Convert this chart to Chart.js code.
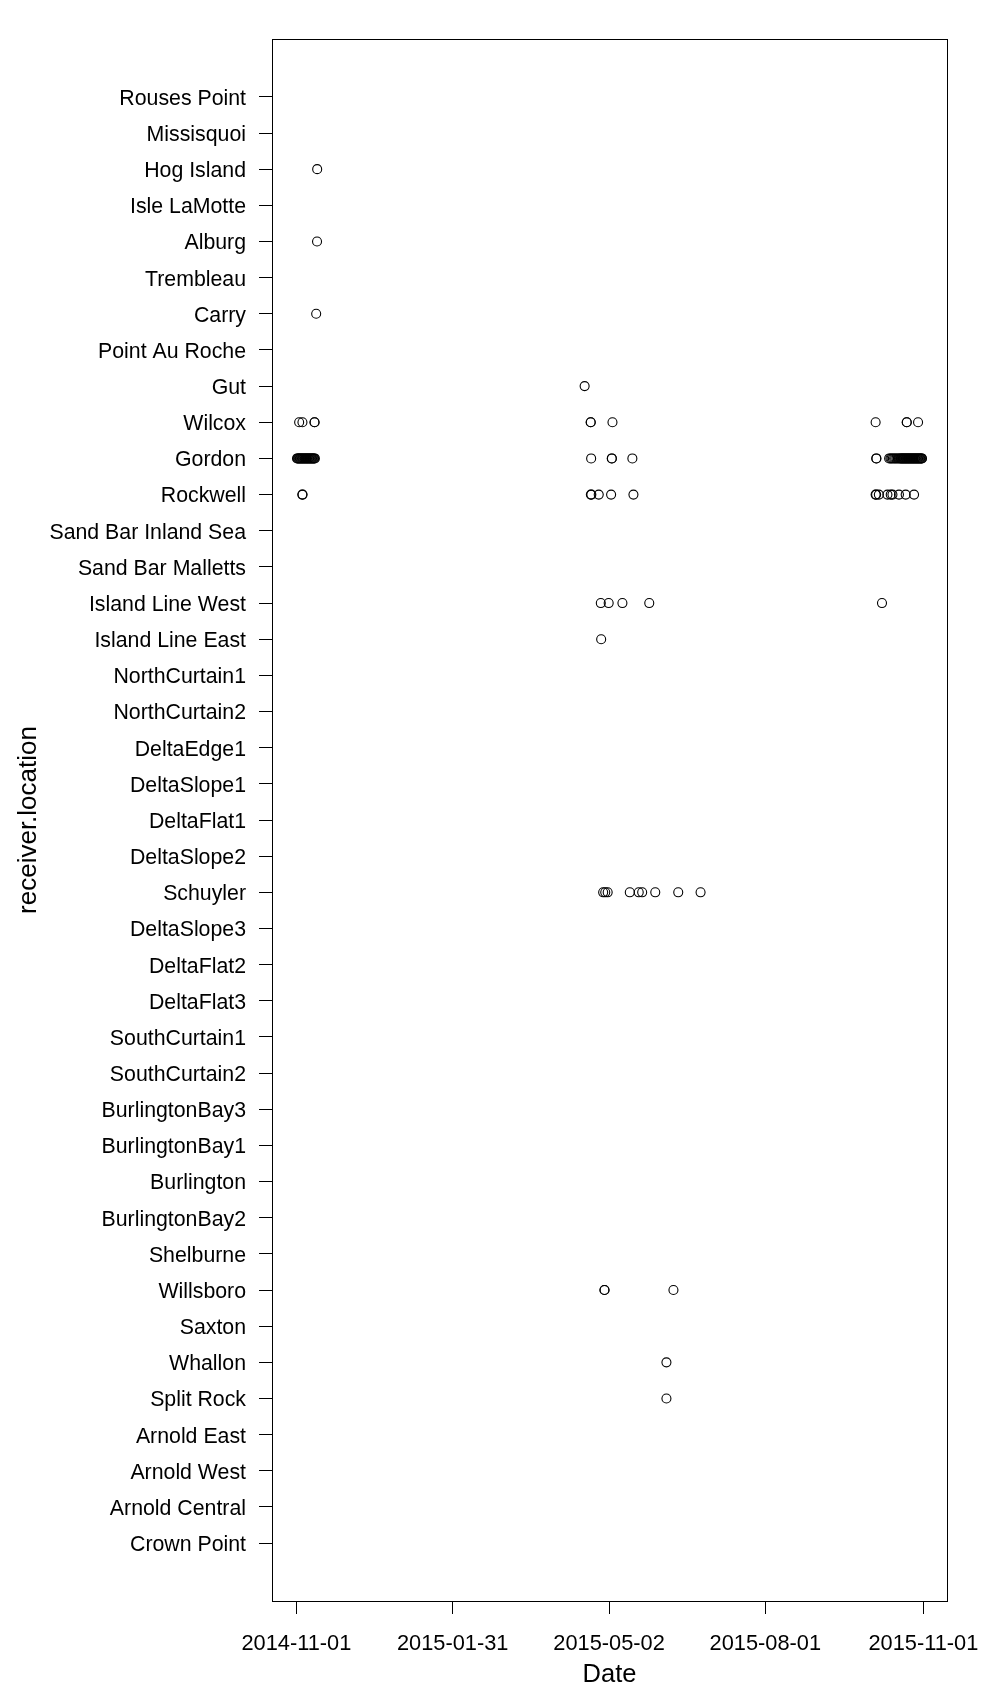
<!DOCTYPE html>
<html>
<head>
<meta charset="utf-8">
<script src="https://cdn.jsdelivr.net/npm/chart.js@4.4.1/dist/chart.umd.min.js"></script>
<style>
  html, body { margin: 0; padding: 0; background: #ffffff; }
  #wrap { position: relative; width: 1000px; height: 1708px; }
</style>
</head>
<body>
<div id="wrap"><canvas id="chart"></canvas></div>
<script>
// ---------------- DATA ----------------
const locations = [
  'Rouses Point', 'Missisquoi', 'Hog Island', 'Isle LaMotte', 'Alburg', 'Trembleau',
  'Carry', 'Point Au Roche', 'Gut', 'Wilcox', 'Gordon', 'Rockwell',
  'Sand Bar Inland Sea', 'Sand Bar Malletts', 'Island Line West', 'Island Line East',
  'NorthCurtain1', 'NorthCurtain2', 'DeltaEdge1', 'DeltaSlope1', 'DeltaFlat1',
  'DeltaSlope2', 'Schuyler', 'DeltaSlope3', 'DeltaFlat2', 'DeltaFlat3',
  'SouthCurtain1', 'SouthCurtain2', 'BurlingtonBay3', 'BurlingtonBay1', 'Burlington',
  'BurlingtonBay2', 'Shelburne', 'Willsboro', 'Saxton', 'Whallon', 'Split Rock',
  'Arnold East', 'Arnold West', 'Arnold Central', 'Crown Point'
];

const tickDates = ['2014-11-01', '2015-01-31', '2015-05-02', '2015-08-01', '2015-11-01'];

const hogIsland = ['2014-11-13 02:00'];
const alburg = ['2014-11-13 00:00'];
const carry = ['2014-11-12 12:00'];
const gut = ['2015-04-17 19:00'];
const wilcox = [
  '2014-11-02 14:00', '2014-11-04 12:00', '2014-11-11 12:00', '2014-11-11 14:00',
  '2015-04-21 07:00', '2015-04-21 09:00', '2015-05-04 00:00',
  '2015-10-04 05:00', '2015-10-22 07:00', '2015-10-22 09:00', '2015-10-28 22:00'
];
const gordon = [
  '2014-11-01 08:00', '2014-11-01 18:00', '2014-11-02 04:00', '2014-11-02 14:00',
  '2014-11-03 00:00', '2014-11-03 10:00', '2014-11-03 20:00', '2014-11-04 06:00',
  '2014-11-04 16:00', '2014-11-05 02:00', '2014-11-05 12:00', '2014-11-05 22:00',
  '2014-11-06 08:00', '2014-11-06 18:00', '2014-11-07 04:00', '2014-11-07 14:00',
  '2014-11-08 00:00', '2014-11-08 10:00', '2014-11-08 20:00', '2014-11-09 06:00',
  '2014-11-09 16:00', '2014-11-10 02:00', '2014-11-10 12:00', '2014-11-10 22:00',
  '2014-11-11 08:00', '2014-11-11 18:00',
  '2015-04-21 14:00', '2015-05-03 14:00', '2015-05-03 16:00', '2015-05-15 14:00',
  '2015-10-04 14:00', '2015-10-04 16:00',
  '2015-10-12 02:00', '2015-10-12 20:00', '2015-10-13 12:00', '2015-10-14 06:00',
  '2015-10-15 00:00', '2015-10-15 16:00', '2015-10-16 10:00', '2015-10-17 04:00',
  '2015-10-17 20:00', '2015-10-18 12:00', '2015-10-18 22:00', '2015-10-19 08:00',
  '2015-10-19 18:00', '2015-10-20 04:00', '2015-10-20 14:00', '2015-10-21 00:00',
  '2015-10-21 10:00', '2015-10-21 20:00', '2015-10-22 06:00', '2015-10-22 16:00',
  '2015-10-23 02:00', '2015-10-23 12:00', '2015-10-23 22:00', '2015-10-24 08:00',
  '2015-10-24 18:00', '2015-10-25 04:00', '2015-10-25 14:00', '2015-10-26 00:00',
  '2015-10-26 10:00', '2015-10-26 20:00', '2015-10-27 06:00', '2015-10-27 16:00',
  '2015-10-28 02:00', '2015-10-28 12:00', '2015-10-28 22:00', '2015-10-29 08:00',
  '2015-10-29 18:00', '2015-10-30 04:00', '2015-10-30 14:00', '2015-10-31 00:00',
  '2015-10-31 05:00'
];
const rockwell = [
  '2014-11-04 10:00', '2014-11-04 14:00',
  '2015-04-21 10:00', '2015-04-21 17:00', '2015-04-26 00:00', '2015-05-03 05:00',
  '2015-05-16 05:00',
  '2015-10-04 05:00', '2015-10-04 12:00', '2015-10-06 02:00', '2015-10-11 02:00',
  '2015-10-13 00:00', '2015-10-14 00:00', '2015-10-17 19:00', '2015-10-21 17:00',
  '2015-10-26 14:00'
];
const islandLineWest = [
  '2015-04-27 05:00', '2015-05-01 19:00', '2015-05-09 19:00', '2015-05-25 10:00',
  '2015-10-07 22:00'
];
const islandLineEast = ['2015-04-27 10:00'];
const schuyler = [
  '2015-04-28 14:00', '2015-04-29 19:00', '2015-05-01 05:00', '2015-05-14 02:00',
  '2015-05-19 07:00', '2015-05-21 07:00', '2015-05-28 22:00', '2015-06-11 07:00',
  '2015-06-24 07:00'
];
const willsboro = ['2015-04-29 07:00', '2015-04-29 10:00', '2015-06-08 12:00'];
const whallon = ['2015-06-04 10:00'];
const splitRock = ['2015-06-04 10:00'];

const detections = [
  ['Hog Island', hogIsland], ['Alburg', alburg], ['Carry', carry], ['Gut', gut],
  ['Wilcox', wilcox], ['Gordon', gordon], ['Rockwell', rockwell],
  ['Island Line West', islandLineWest], ['Island Line East', islandLineEast],
  ['Schuyler', schuyler], ['Willsboro', willsboro], ['Whallon', whallon],
  ['Split Rock', splitRock]
];

// ---------------- BUILD ----------------
function toMs(s) {
  const parts = s.split(' ');
  const d = parts[0].split('-').map(Number);
  const t = (parts[1] || '00:00').split(':').map(Number);
  return Date.UTC(d[0], d[1] - 1, d[2], t[0], t[1]);
}

const points = [];
detections.forEach(([name, dates]) => {
  const yi = locations.indexOf(name);
  dates.forEach(s => points.push({ x: toMs(s), y: yi }));
});

// R-style 4% axis extension
const xs = points.map(p => p.x);
const xMin = Math.min(...xs), xMax = Math.max(...xs);
const xPad = (xMax - xMin) * 0.04;
const yPad = (locations.length - 1) * 0.04;

Chart.defaults.font.family = "'Liberation Sans', Arial, sans-serif";
Chart.defaults.color = '#000000';

const boxPlugin = {
  id: 'box',
  afterDraw(chart) {
    const { ctx, chartArea: a } = chart;
    ctx.save();
    ctx.strokeStyle = '#000';
    ctx.lineWidth = 1;
    ctx.strokeRect(Math.round(a.left) + 0.5, Math.round(a.top) + 0.5,
      Math.round(a.right - a.left), Math.round(a.bottom - a.top));
    ctx.restore();
  }
};

new Chart(document.getElementById('chart'), {
  type: 'scatter',
  data: {
    datasets: [{
      data: points,
      pointStyle: 'circle',
      pointRadius: 4.5,
      pointHoverRadius: 4.5,
      borderWidth: 1.1,
      borderColor: '#000000',
      backgroundColor: 'rgba(0,0,0,0)'
    }]
  },
  plugins: [boxPlugin],
  options: {
    responsive: true,
    maintainAspectRatio: false,
    animation: false,
    events: [],
    layout: { padding: { top: 39, right: 53, left: 0, bottom: 0 } },
    plugins: { legend: { display: false }, tooltip: { enabled: false } },
    scales: {
      x: {
        type: 'linear',
        min: xMin - xPad,
        max: xMax + xPad,
        afterBuildTicks: s => { s.ticks = tickDates.map(d => ({ value: toMs(d) })); },
        afterFit: s => { s.height = 107; s.paddingLeft = 0; s.paddingRight = 0; },
        ticks: {
          autoSkip: false, maxRotation: 0, padding: 17,
          font: { size: 21.8 }, color: '#000',
          callback: (v, i) => tickDates[i]
        },
        grid: { drawOnChartArea: false, tickLength: 13, tickColor: '#000', tickWidth: 1 },
        border: { display: false },
        title: { display: true, text: 'Date', font: { size: 25.5 }, color: '#000', padding: { top: 0, bottom: 18 } }
      },
      y: {
        type: 'linear',
        reverse: true,
        min: -yPad,
        max: locations.length - 1 + yPad,
        afterBuildTicks: s => { s.ticks = locations.map((_, i) => ({ value: i })); },
        afterFit: s => { s.width = 272; s.paddingTop = 0; s.paddingBottom = 0; },
        ticks: {
          autoSkip: false, padding: 13, labelOffset: 2,
          font: { size: 21.3 }, color: '#000',
          callback: (v, i) => locations[i]
        },
        grid: { drawOnChartArea: false, tickLength: 13, tickColor: '#000', tickWidth: 1 },
        border: { display: false },
        title: { display: true, text: 'receiver.location', font: { size: 26 }, color: '#000', padding: { top: 13, bottom: 0 } }
      }
    }
  }
});
</script>
</body>
</html>
